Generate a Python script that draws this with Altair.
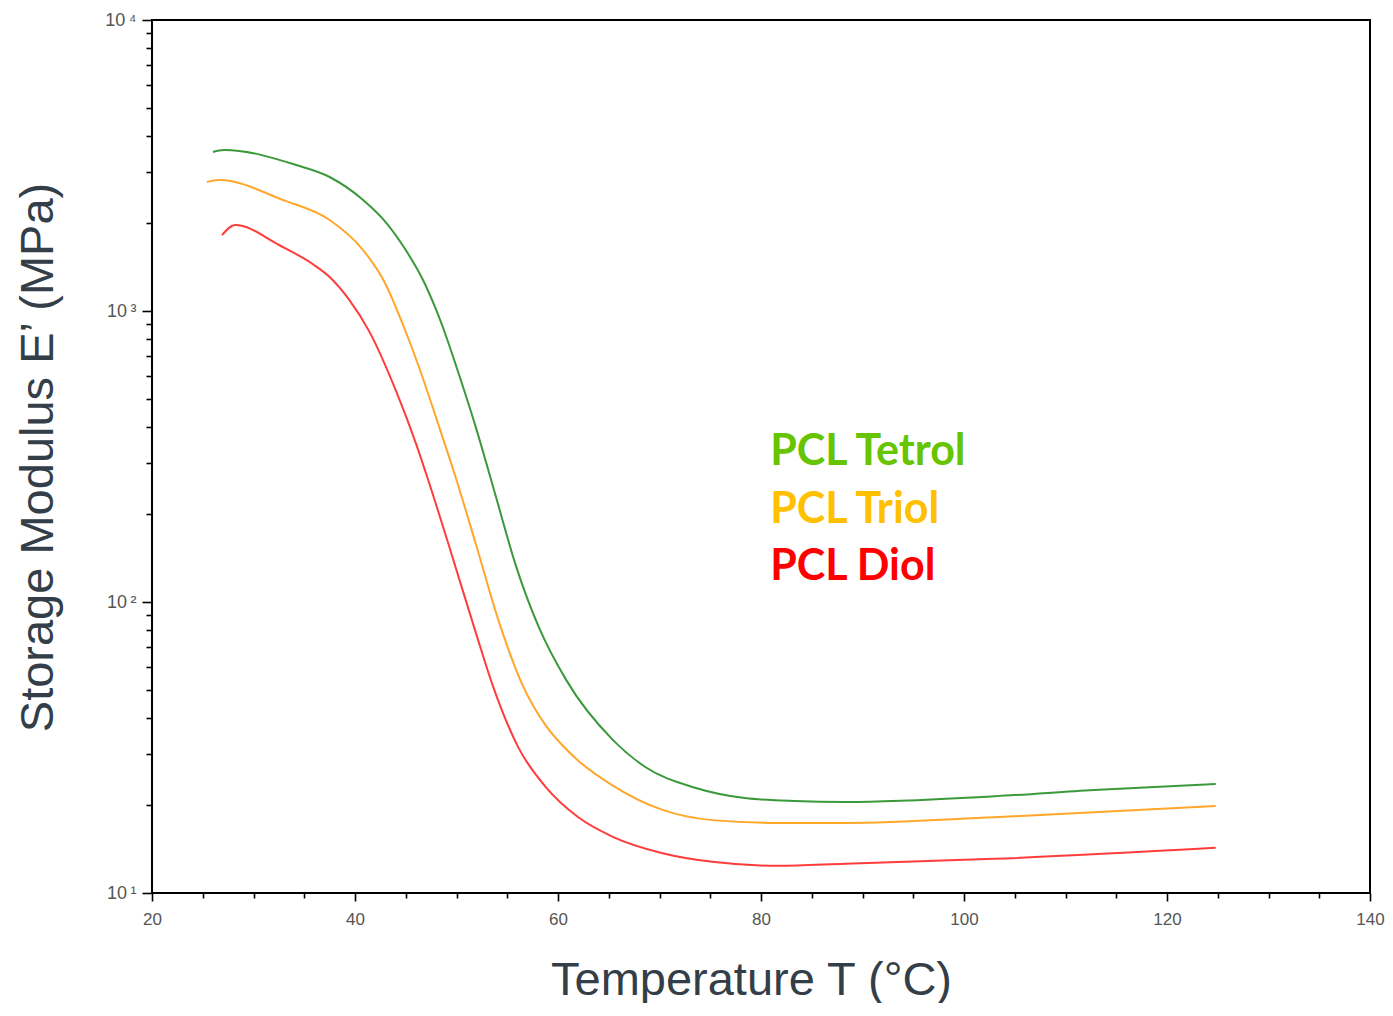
import altair as alt
import pandas as pd

# ---- data ----
T_tetrol = [26.0, 27.1, 34.2, 37.5, 40.8, 43.1, 45.0, 46.7, 48.0, 49.0, 50.0, 51.9, 53.9, 55.8,
            58.1, 60.8, 65.4, 68.6, 73.5, 78.4, 83.3, 88.3, 103.0, 112.8, 124.8]
E_tetrol = [3520, 3575, 3175, 2887, 2407, 2006, 1620, 1278, 1008, 814, 642, 399, 229, 135,
            82.1, 54.0, 33.6, 27.1, 23.0, 21.2, 20.7, 20.55, 21.5, 22.6, 23.7]

T_triol = [25.4, 26.6, 33.0, 37.5, 40.8, 42.8, 45.2, 46.3, 48.3, 50.0, 51.9, 54.2, 56.5,
           58.8, 60.5, 62.0, 65.4, 70.3, 75.2, 81.7, 88.3, 103.0, 124.8]
E_triol = [2775, 2819, 2400, 2055, 1620, 1278, 814, 642, 399, 262.6, 158.5, 85.1, 51.9,
           37.6, 32.0, 28.5, 23.4, 19.3, 17.8, 17.4, 17.4, 18.2, 19.9]

T_diol = [26.9, 28.2, 32.6, 35.9, 37.5, 39.4, 41.4, 44.1, 46.0, 47.3, 49.2, 51.9, 53.6,
          56.1, 58.8, 62.0, 65.4, 70.3, 75.2, 81.7, 88.3, 103.0, 124.8]
E_diol = [1824, 1975, 1679, 1445, 1309, 1096, 851, 525, 351, 257, 158.5, 78.5, 51.3,
          31.6, 23.1, 18.2, 15.6, 13.7, 12.8, 12.4, 12.6, 13.1, 14.3]

series_names = ["PCL Tetrol", "PCL Triol", "PCL Diol"]
line_colors = ["#3a993a", "#ffa62b", "#ff3c3c"]
label_colors = ["#66c400", "#ffc000", "#ff0000"]

# legend-like annotations (data coordinates)
label_T = [80.9, 80.9, 80.9]
label_E = [296, 187, 119]

x_major = [20, 40, 60, 80, 100, 120, 140]
x_minor = [v for v in range(25, 140, 5) if v % 20 != 0]
y_major = [10, 100, 1000, 10000]
y_major_labels = ["10\u2009¹", "10\u2009²", "10\u2009³", "10\u2009⁴"]
y_minor = [m * d for d in (10, 100, 1000) for m in range(2, 10)]

# ---- tables ----
rows = []
for name, Ts, Es in zip(series_names, [T_tetrol, T_triol, T_diol], [E_tetrol, E_triol, E_diol]):
    for t, e in zip(Ts, Es):
        rows.append({"series": name, "T": t, "E": e})
df = pd.DataFrame(rows)
lab = pd.DataFrame({"series": series_names, "T": label_T, "E": label_E, "col": label_colors})

ylabel_expr = " : ".join(
    f"datum.value == {v} ? '{s}'" for v, s in zip(y_major[:-1], y_major_labels[:-1])
) + f" : '{y_major_labels[-1]}'"

xscale = alt.Scale(domain=[20, 140], nice=False)
yscale = alt.Scale(type="log", domain=[10, 10000], nice=False)
color = alt.Color("series:N", scale=alt.Scale(domain=series_names, range=line_colors), legend=None)

lines = alt.Chart(df).mark_line(strokeWidth=2, interpolate="monotone").encode(
    x=alt.X("T:Q", scale=xscale,
            axis=alt.Axis(orient="bottom", values=x_major, tickSize=8, tickWidth=1.6, tickColor="black",
                          domain=False, grid=False, labelFont="Liberation Sans", labelFontSize=17,
                          labelColor="#555555", labelPadding=10, labelFlush=False,
                          title="Temperature  T (°C)", titleFont="Liberation Sans", titleFontSize=47,
                          titleFontWeight="normal", titleColor="#333e48",
                          titleX=599, titleY=101, titleBaseline="alphabetic", titleAnchor="middle")),
    y=alt.Y("E:Q", scale=yscale,
            axis=alt.Axis(orient="left", values=y_major, labelExpr=ylabel_expr, tickSize=10, tickWidth=1.6,
                          tickColor="black", domain=False, grid=False, labelFont="Liberation Sans",
                          labelFontSize=18, labelColor="#555555", labelPadding=6, labelFlush=False,
                          title="Storage Modulus E’ (MPa)", titleFont="Liberation Sans", titleFontSize=47,
                          titleFontWeight="normal", titleColor="#333e48",
                          titleX=-90, titleY=437, titleAngle=270, titleBaseline="bottom",
                          titleAlign="center")),
    color=color,
    detail="series:N",
)

minor = alt.Chart(df).mark_line(opacity=0).encode(
    x=alt.X("T:Q", scale=xscale,
            axis=alt.Axis(orient="bottom", values=x_minor, tickSize=5, tickWidth=1.6, tickColor="black",
                          domain=False, grid=False, labels=False, title=None)),
    y=alt.Y("E:Q", scale=yscale,
            axis=alt.Axis(orient="left", values=y_minor, tickSize=6, tickWidth=1.6, tickColor="black",
                          domain=False, grid=False, labels=False, title=None)),
    detail="series:N",
)

texts = alt.Chart(lab).mark_text(align="left", baseline="alphabetic", font="Lato", fontSize=43,
                                 fontWeight="bold").encode(
    x=alt.X("T:Q", scale=xscale, axis=None),
    y=alt.Y("E:Q", scale=yscale, axis=None),
    text="series:N",
    color=alt.Color("col:N", scale=None, legend=None),
)

chart = alt.layer(lines, minor, texts).resolve_axis(x="independent", y="independent").resolve_scale(
    color="independent"
).properties(
    width=1218, height=873,
    autosize=alt.AutoSizeParams(type="none"),
    padding={"left": 144, "top": 12, "right": 15, "bottom": 110},
).configure_view(stroke="black", strokeWidth=2)

chart.save("out.html", embed_options={"renderer": "svg", "actions": False})
